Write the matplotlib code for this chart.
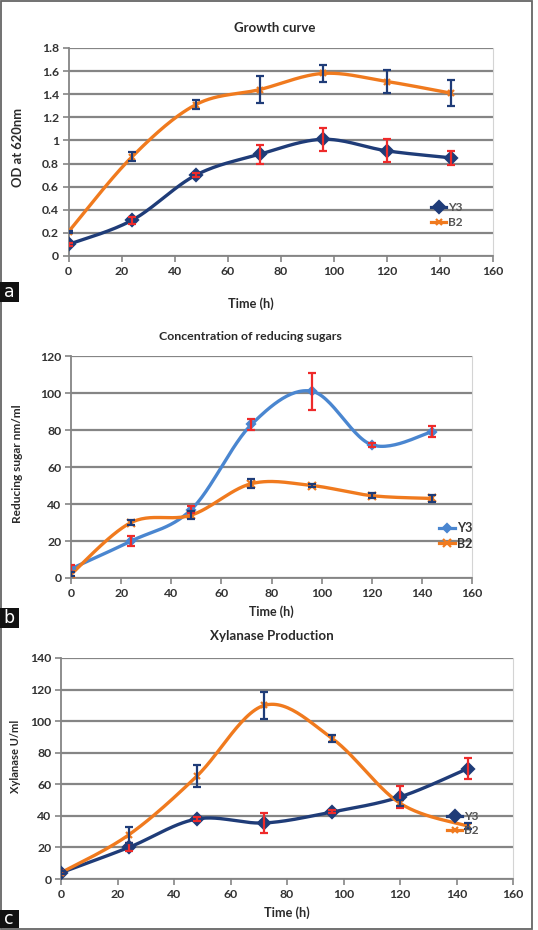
import numpy as np
import matplotlib
matplotlib.use("Agg")
import matplotlib.pyplot as plt
from matplotlib.patches import Rectangle
from matplotlib.lines import Line2D

plt.rcParams['font.family'] = ['Lato', 'DejaVu Sans']
plt.rcParams['font.weight'] = 'bold'

time_h = [0, 24, 48, 72, 96, 120, 144]

# Panel a: Growth curve
a_y3 = [0.10, 0.31, 0.70, 0.88, 1.01, 0.91, 0.85]
a_y3_err = [0.01, 0.03, 0.02, 0.08, 0.10, 0.10, 0.06]
a_b2 = [0.21, 0.86, 1.31, 1.44, 1.58, 1.51, 1.41]
a_b2_err = [0.01, 0.04, 0.04, 0.12, 0.07, 0.10, 0.11]

# Panel b: reducing sugars
b_y3 = [5, 20, 37, 83, 101, 72, 79]
b_y3_err = [2, 2.5, 2, 3, 10, 1, 3]
b_b2 = [2, 30, 34, 51, 50, 44.5, 43]
b_b2_err = [1, 1.5, 2, 2.5, 1, 1.5, 2]

# Panel c: xylanase
c_y3 = [4, 20, 38, 35.5, 42.5, 52, 70]
c_y3_err = [1, 2.5, 1.5, 6.5, 1, 7, 6.5]
c_b2 = [4, 28, 65, 110, 89, 48, 33.5]
c_b2_err = [1, 5, 7, 8.5, 2.5, 2, 2]

NAVY = '#1f3c78'
LBLUE = '#4a86d0'
ORANGE = '#f07a1e'
RED = '#ee2a2a'
GRID = '#858585'
TXT = '#2a2a2a'

W, H = 538, 930
fig = plt.figure(figsize=(W / 100, H / 100), dpi=100)
renderer = fig.canvas.get_renderer()


def smooth(x, y, n=30):
    P = np.column_stack([np.asarray(x, float), np.asarray(y, float)])
    out = [P[0]]
    for i in range(len(P) - 1):
        p0 = P[i - 1] if i > 0 else P[i]
        p1 = P[i]
        p2 = P[i + 1]
        p3 = P[i + 2] if i + 2 < len(P) else P[i + 1]
        c1 = p1 + (p2 - p0) / 6
        c2 = p2 - (p3 - p1) / 6
        t = np.linspace(0, 1, n)[1:, None]
        seg = (1 - t) ** 3 * p1 + 3 * (1 - t) ** 2 * t * c1 + 3 * (1 - t) * t ** 2 * c2 + t ** 3 * p2
        out.extend(seg)
    out = np.array(out)
    return out[:, 0], out[:, 1]


def fit_text(xc, yc, s, target, rotation=0):
    t = fig.text(xc / W, 1 - yc / H, s, ha='center', va='center', rotation=rotation,
                 fontsize=10, fontweight='bold', color=TXT)
    bb = t.get_window_extent(renderer)
    size = bb.height if rotation else bb.width
    t.set_fontsize(10 * target / size)
    return t


def make_ax(x0, x1, y_top, y_bot):
    return fig.add_axes([x0 / W, (H - y_bot) / H, (x1 - x0) / W, (y_bot - y_top) / H])


def style(ax, ymax, ystep, yticklabels):
    ax.set_xlim(0, 160)
    ax.set_ylim(0, ymax)
    ax.set_xticks(range(0, 161, 20))
    ax.set_yticks(np.arange(0, ymax + 1e-9, ystep))
    ax.set_yticklabels(yticklabels)
    ax.yaxis.grid(True, color=GRID, lw=1.6)
    ax.set_axisbelow(True)
    ax.spines['top'].set_visible(False)
    ax.spines['right'].set_color('#d4d4d4')
    for s in ['left', 'bottom']:
        ax.spines[s].set_color(GRID)
        ax.spines[s].set_linewidth(1.3)
    ax.tick_params(axis='both', labelcolor='#333333', color=GRID, labelsize=8.8,
                   length=4, width=1.2, direction='out', pad=3)
    for lab in ax.get_xticklabels() + ax.get_yticklabels():
        lab.set_fontweight('bold')


def series(ax, y, err, color, ecolor, marker, ms, label):
    xs, ys = smooth(time_h, y)
    ax.plot(xs, ys, color=color, lw=2.4, zorder=3)
    ax.plot(time_h, y, ls='none', marker=marker, color=color, ms=ms, mew=1.6, zorder=4)
    ax.errorbar(time_h, y, yerr=err, fmt='none', ecolor=ecolor, elinewidth=1.6,
                capsize=3, capthick=1.6, zorder=5)
    return Line2D([], [], color=color, lw=2.3, marker=marker, ms=ms, mew=1.6, label=label)


def legend(ax, handles, x_px, y_px, fs, color, spacing):
    ax.legend(handles=handles, loc='center left', bbox_to_anchor=(x_px / W, 1 - y_px / H),
              bbox_transform=fig.transFigure, frameon=False, borderpad=0, borderaxespad=0,
              fontsize=fs, handlelength=1.3, handletextpad=0.15, labelspacing=spacing,
              labelcolor=color)


# Panel a
ax = make_ax(68.5, 493, 48, 256)
style(ax, 1.8, 0.2, ['0', '0.2', '0.4', '0.6', '0.8', '1', '1.2', '1.4', '1.6', '1.8'])
h1 = series(ax, a_y3, a_y3_err, NAVY, RED, 'D', 6.3, 'Y3')
h2 = series(ax, a_b2, a_b2_err, ORANGE, NAVY, 'x', 5, 'B2')
legend(ax, [h1, h2], 431, 215, 8.5, '#555555', 0.35)
fit_text(275, 28, 'Growth curve', 82)
fit_text(250.5, 304, 'Time (h)', 46)
fit_text(18, 147, 'OD at 620nm', 79, rotation=90)

# Panel b
ax = make_ax(71, 472, 356, 578)
style(ax, 120, 20, [str(v) for v in range(0, 121, 20)])
h1 = series(ax, b_y3, b_y3_err, LBLUE, RED, 'D', 4.5, 'Y3')
h2 = series(ax, b_b2, b_b2_err, ORANGE, NAVY, 'x', 6, 'B2')
legend(ax, [h1, h2], 439, 536, 9, '#333333', 0.25)
fit_text(250, 337, 'Concentration of reducing sugars', 184)
fit_text(271.5, 612, 'Time (h)', 45)
fit_text(18, 463.5, 'Reducing sugar nm/ml', 119, rotation=90)

# Panel c
ax = make_ax(61, 513, 658, 879)
style(ax, 140, 20, [str(v) for v in range(0, 141, 20)])
h1 = series(ax, c_y3, c_y3_err, NAVY, RED, 'D', 6.3, 'Y3')
h2 = series(ax, c_b2, c_b2_err, ORANGE, NAVY, 'x', 5, 'B2')
legend(ax, [h1, h2], 447, 823.5, 8.5, '#555555', 0.2)
fit_text(271.5, 636, 'Xylanase Production', 123)
fit_text(287, 913, 'Time (h)', 46)
fit_text(15.5, 756.5, 'Xylanase U/ml', 73, rotation=90)

# panel letters
for letter, ytop, ybot in [('a', 282.5, 302), ('b', 608, 628), ('c', 910, 928)]:
    fig.patches.append(Rectangle((0, 1 - ybot / H), 18.5 / W, (ybot - ytop) / H,
                                 transform=fig.transFigure, facecolor='#111111',
                                 edgecolor='none', zorder=10))
    fig.text(9.2 / W, 1 - (ytop + ybot) / 2 / H, letter, color='white', ha='center',
             va='center', fontsize=12.5, fontweight='normal', family='DejaVu Sans', zorder=11)

# frame
fig.patches.append(Rectangle((1 / W, 1 / H), 531 / W, 928 / H, transform=fig.transFigure,
                             facecolor='none', edgecolor='#666666', lw=1.3))

fig.savefig('out.png', dpi=100)
